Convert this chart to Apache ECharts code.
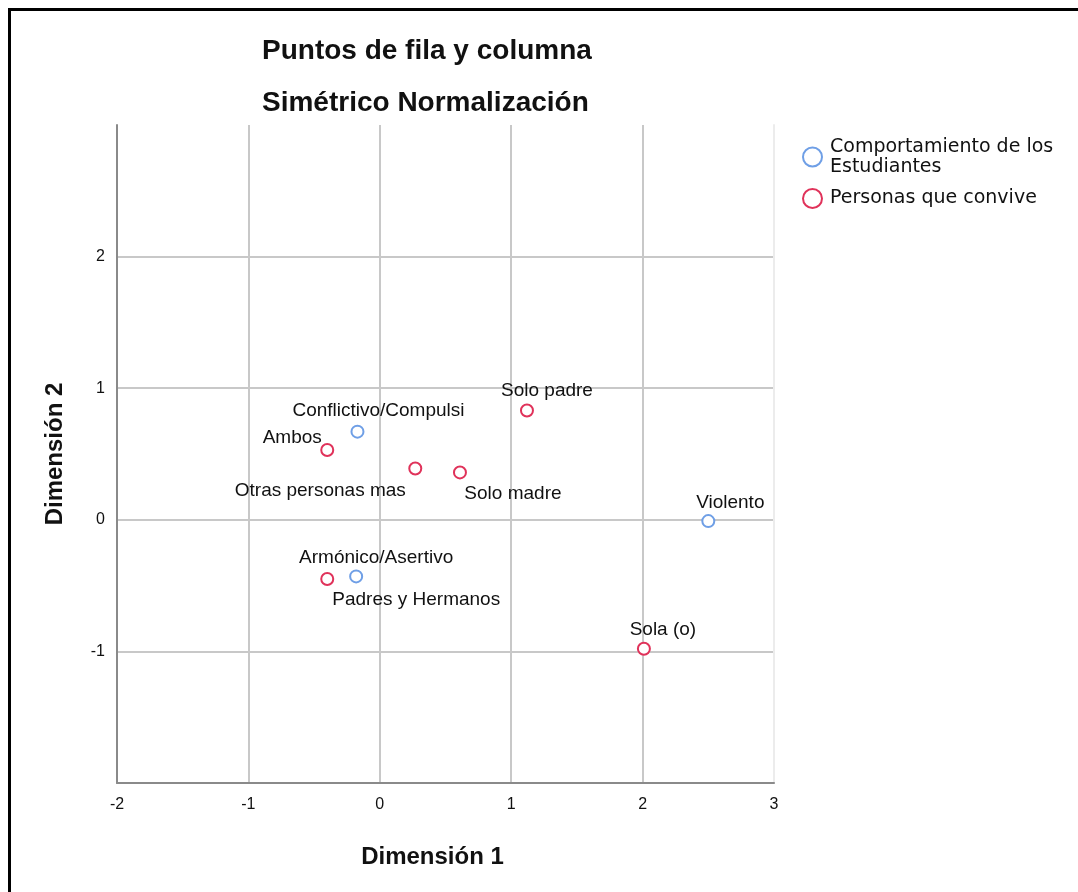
<!DOCTYPE html>
<html><head><meta charset="utf-8">
<script src="https://cdn.jsdelivr.net/npm/echarts@6/dist/echarts.min.js"></script>
<style>
html,body{margin:0;padding:0;background:#fff;overflow:hidden}
#frame{position:absolute;left:8px;top:8px;width:1200px;height:1000px;border-top:3px solid #000;border-left:3px solid #000;}
#chart{position:absolute;left:0;top:0;width:1078px;height:892px;}
</style></head><body>
<div id="frame"></div>
<div id="chart"></div>
<script>
// Row points: Comportamiento de los Estudiantes
const rowNames = ['Conflictivo/Compulsi', 'Armónico/Asertivo', 'Violento'];
const rowX = [-0.17, -0.18, 2.50];
const rowY = [0.67, -0.43, -0.01];
// Column points: Personas que convive
const colNames = ['Ambos', 'Otras personas mas', 'Solo madre', 'Solo padre', 'Padres y Hermanos', 'Sola (o)'];
const colX = [-0.40, 0.27, 0.61, 1.12, -0.40, 2.01];
const colY = [0.53, 0.39, 0.36, 0.83, -0.45, -0.98];
const seriesNames = ['Comportamiento de los Estudiantes', 'Personas que convive'];
const xRange = [-2, 3];
const yRange = [-2, 3];

// label placement (style only)
const labelPlace = {
  'Conflictivo/Compulsi': ['top', [21, 1]],
  'Armónico/Asertivo': ['top', [20, 3]],
  'Violento': ['top', [22, 3]],
  'Ambos': ['top', [-35, 9]],
  'Otras personas mas': ['bottom', [-95, 1]],
  'Solo madre': ['bottom', [53, 0]],
  'Solo padre': ['top', [20, 2]],
  'Padres y Hermanos': ['bottom', [89, -1]],
  'Sola (o)': ['top', [19, 2]]
};

function mk(names, xs, ys) {
  return names.map((n, i) => ({
    name: n, value: [xs[i], ys[i]],
    label: { position: labelPlace[n][0], offset: labelPlace[n][1] }
  }));
}

const FONT = "'Liberation Sans', Arial, sans-serif";
const chart = echarts.init(document.getElementById('chart'));
const labelCfg = { show: true, formatter: p => p.name, color: '#111', fontSize: 19, fontFamily: FONT, distance: 5, opacity: 1 };

chart.setOption({
  animation: false,
  title: [
    { text: 'Puntos de fila y columna', left: 257, top: 32, textStyle: { fontSize: 28, fontWeight: 'bold', color: '#111', fontFamily: FONT } },
    { text: 'Simétrico Normalización', left: 257, top: 84, textStyle: { fontSize: 28, fontWeight: 'bold', color: '#111', fontFamily: FONT } }
  ],
  legend: {
    orient: 'vertical', left: 797, top: 132, itemWidth: 19, itemHeight: 19, itemGap: 11,
    icon: 'circle',
    data: seriesNames,
    formatter: n => n === seriesNames[0] ? 'Comportamiento de los\nEstudiantes' : n,
    textStyle: { fontSize: 19, fontFamily: "'DejaVu Sans', sans-serif", color: '#111', lineHeight: 20, padding: [0, 0, 0, 3] }
  },
  grid: { left: 117, right: 304, top: 125, bottom: 109 },
  xAxis: {
    type: 'value', min: xRange[0], max: xRange[1], interval: 1,
    name: 'Dimensión 1', nameLocation: 'middle', nameGap: 62,
    nameTextStyle: { fontSize: 24, fontWeight: 'bold', color: '#111', fontFamily: FONT, padding: [0, 26, 0, 0] },
    axisLine: { show: true, onZero: false, lineStyle: { color: '#8a8a8a', width: 2 } },
    axisTick: { show: false },
    axisLabel: { fontSize: 16, color: '#111', fontFamily: FONT, margin: 14 },
    splitLine: { show: true, showMinLine: false, showMaxLine: false, lineStyle: { color: '#c8c8c8', width: 2 } }
  },
  yAxis: [{
    type: 'value', min: yRange[0], max: yRange[1], interval: 1,
    name: 'Dimensión 2', nameLocation: 'middle', nameGap: 50, nameRotate: 90,
    nameTextStyle: { fontSize: 24, fontWeight: 'bold', color: '#111', fontFamily: FONT },
    axisLine: { show: true, onZero: false, lineStyle: { color: '#8a8a8a', width: 2 } },
    axisTick: { show: false },
    axisLabel: { fontSize: 16, color: '#111', fontFamily: FONT, margin: 12, showMinLabel: false, showMaxLabel: false },
    splitLine: { show: true, showMinLine: false, showMaxLine: false, lineStyle: { color: '#c8c8c8', width: 2 } }
  }, {
    type: 'value', position: 'right', min: yRange[0], max: yRange[1], interval: 1,
    axisLine: { show: true, onZero: false, lineStyle: { color: '#ececec', width: 2 } },
    axisTick: { show: false }, axisLabel: { show: false }, splitLine: { show: false }
  }],
  series: [
    {
      name: seriesNames[0], type: 'scatter', symbol: 'circle', symbolSize: 12,
      itemStyle: { color: '#fff', borderColor: '#6f9fe6', borderWidth: 2, opacity: 1 },
      label: labelCfg,
      data: mk(rowNames, rowX, rowY)
    },
    {
      name: seriesNames[1], type: 'scatter', symbol: 'circle', symbolSize: 12,
      itemStyle: { color: '#fff', borderColor: '#e0325a', borderWidth: 2, opacity: 1 },
      label: labelCfg,
      data: mk(colNames, colX, colY)
    }
  ]
});
</script>
</body></html>
